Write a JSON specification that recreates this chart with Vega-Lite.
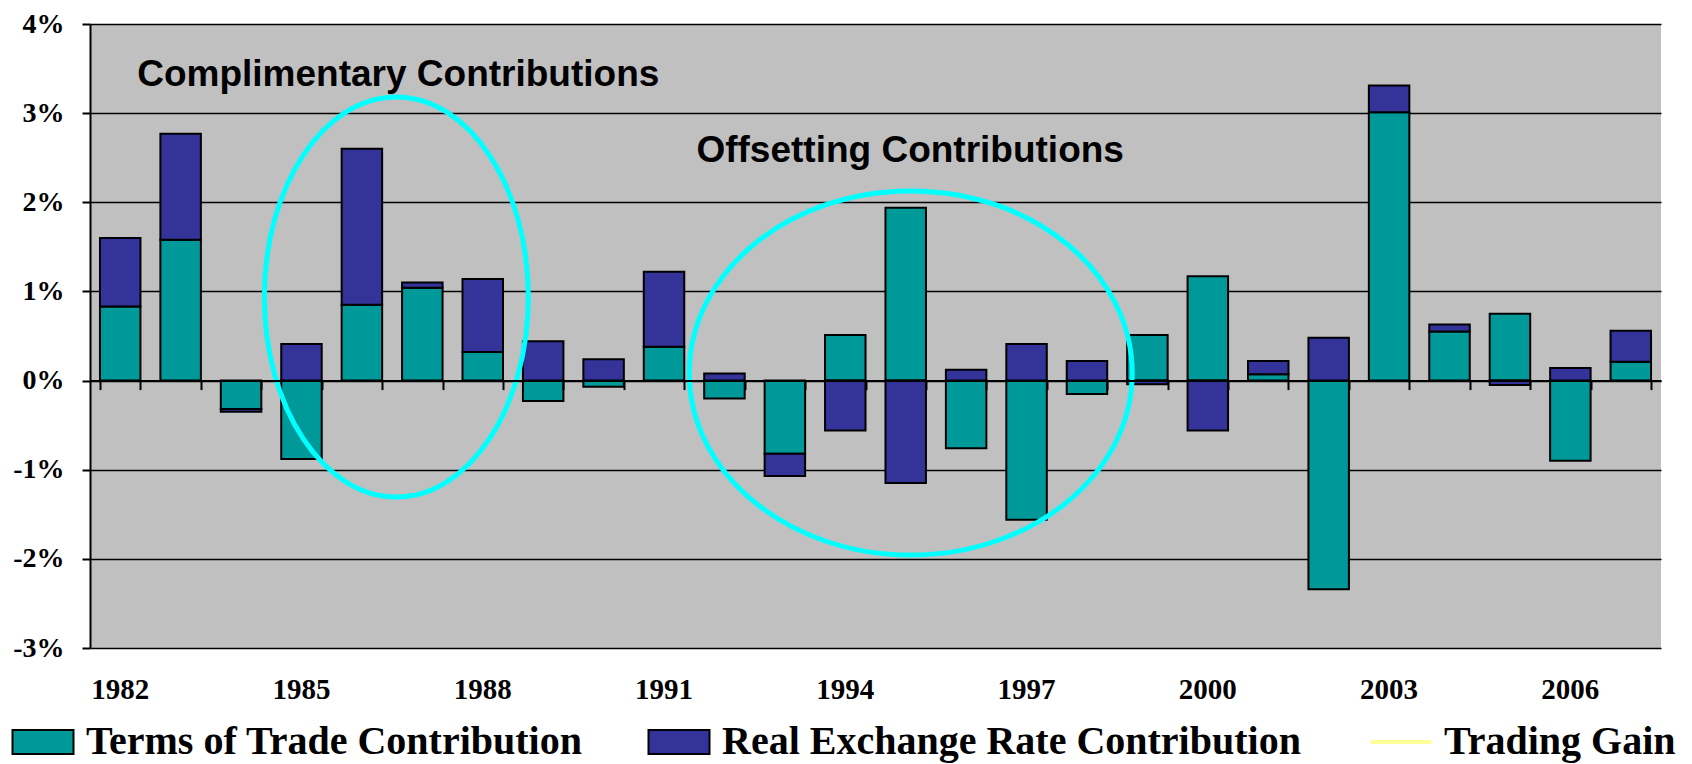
{
  "$schema": "https://vega.github.io/schema/vega-lite/v6.json",
  "width": 1571,
  "height": 624,
  "autosize": {"type": "none"},
  "padding": {"left": 90, "top": 24, "right": 31, "bottom": 116},
  "background": "white",
  "config": {
    "view": {"fill": "#C0C0C0", "stroke": null},
    "axisY": {"title": null, "labelExpr": "datum.value + '%'", "labelFont": "Liberation Serif", "labelFontWeight": "bold", "labelFontSize": 28, "labelColor": "black", "labelPadding": 18, "tickSize": 8, "tickColor": "black", "tickWidth": 2, "domainColor": "black", "domainWidth": 2, "grid": true, "gridColor": "black", "gridWidth": 1.5, "gridOpacity": 1}
  },
  "data": {
    "values": [
      {"year": 1982, "series": "Terms of Trade Contribution", "ord": 1, "value": 0.83},
      {"year": 1982, "series": "Real Exchange Rate Contribution", "ord": 2, "value": 0.77},
      {"year": 1983, "series": "Terms of Trade Contribution", "ord": 1, "value": 1.58},
      {"year": 1983, "series": "Real Exchange Rate Contribution", "ord": 2, "value": 1.19},
      {"year": 1984, "series": "Terms of Trade Contribution", "ord": 1, "value": -0.32},
      {"year": 1984, "series": "Real Exchange Rate Contribution", "ord": 2, "value": -0.03},
      {"year": 1985, "series": "Terms of Trade Contribution", "ord": 1, "value": -0.88},
      {"year": 1985, "series": "Real Exchange Rate Contribution", "ord": 2, "value": 0.41},
      {"year": 1986, "series": "Terms of Trade Contribution", "ord": 1, "value": 0.85},
      {"year": 1986, "series": "Real Exchange Rate Contribution", "ord": 2, "value": 1.75},
      {"year": 1987, "series": "Terms of Trade Contribution", "ord": 1, "value": 1.04},
      {"year": 1987, "series": "Real Exchange Rate Contribution", "ord": 2, "value": 0.06},
      {"year": 1988, "series": "Terms of Trade Contribution", "ord": 1, "value": 0.32},
      {"year": 1988, "series": "Real Exchange Rate Contribution", "ord": 2, "value": 0.82},
      {"year": 1989, "series": "Terms of Trade Contribution", "ord": 1, "value": -0.23},
      {"year": 1989, "series": "Real Exchange Rate Contribution", "ord": 2, "value": 0.44},
      {"year": 1990, "series": "Terms of Trade Contribution", "ord": 1, "value": -0.07},
      {"year": 1990, "series": "Real Exchange Rate Contribution", "ord": 2, "value": 0.24},
      {"year": 1991, "series": "Terms of Trade Contribution", "ord": 1, "value": 0.38},
      {"year": 1991, "series": "Real Exchange Rate Contribution", "ord": 2, "value": 0.84},
      {"year": 1992, "series": "Terms of Trade Contribution", "ord": 1, "value": -0.20},
      {"year": 1992, "series": "Real Exchange Rate Contribution", "ord": 2, "value": 0.08},
      {"year": 1993, "series": "Terms of Trade Contribution", "ord": 1, "value": -0.82},
      {"year": 1993, "series": "Real Exchange Rate Contribution", "ord": 2, "value": -0.25},
      {"year": 1994, "series": "Terms of Trade Contribution", "ord": 1, "value": 0.51},
      {"year": 1994, "series": "Real Exchange Rate Contribution", "ord": 2, "value": -0.56},
      {"year": 1995, "series": "Terms of Trade Contribution", "ord": 1, "value": 1.94},
      {"year": 1995, "series": "Real Exchange Rate Contribution", "ord": 2, "value": -1.15},
      {"year": 1996, "series": "Terms of Trade Contribution", "ord": 1, "value": -0.76},
      {"year": 1996, "series": "Real Exchange Rate Contribution", "ord": 2, "value": 0.12},
      {"year": 1997, "series": "Terms of Trade Contribution", "ord": 1, "value": -1.56},
      {"year": 1997, "series": "Real Exchange Rate Contribution", "ord": 2, "value": 0.41},
      {"year": 1998, "series": "Terms of Trade Contribution", "ord": 1, "value": -0.15},
      {"year": 1998, "series": "Real Exchange Rate Contribution", "ord": 2, "value": 0.22},
      {"year": 1999, "series": "Terms of Trade Contribution", "ord": 1, "value": 0.51},
      {"year": 1999, "series": "Real Exchange Rate Contribution", "ord": 2, "value": -0.04},
      {"year": 2000, "series": "Terms of Trade Contribution", "ord": 1, "value": 1.17},
      {"year": 2000, "series": "Real Exchange Rate Contribution", "ord": 2, "value": -0.56},
      {"year": 2001, "series": "Terms of Trade Contribution", "ord": 1, "value": 0.07},
      {"year": 2001, "series": "Real Exchange Rate Contribution", "ord": 2, "value": 0.15},
      {"year": 2002, "series": "Terms of Trade Contribution", "ord": 1, "value": -2.34},
      {"year": 2002, "series": "Real Exchange Rate Contribution", "ord": 2, "value": 0.48},
      {"year": 2003, "series": "Terms of Trade Contribution", "ord": 1, "value": 3.01},
      {"year": 2003, "series": "Real Exchange Rate Contribution", "ord": 2, "value": 0.30},
      {"year": 2004, "series": "Terms of Trade Contribution", "ord": 1, "value": 0.55},
      {"year": 2004, "series": "Real Exchange Rate Contribution", "ord": 2, "value": 0.08},
      {"year": 2005, "series": "Terms of Trade Contribution", "ord": 1, "value": 0.75},
      {"year": 2005, "series": "Real Exchange Rate Contribution", "ord": 2, "value": -0.05},
      {"year": 2006, "series": "Terms of Trade Contribution", "ord": 1, "value": -0.90},
      {"year": 2006, "series": "Real Exchange Rate Contribution", "ord": 2, "value": 0.14},
      {"year": 2007, "series": "Terms of Trade Contribution", "ord": 1, "value": 0.21},
      {"year": 2007, "series": "Real Exchange Rate Contribution", "ord": 2, "value": 0.35}
    ]
  },
  "resolve": {"axis": {"x": "independent"}},
  "layer": [
    {
      "mark": {"type": "bar", "stroke": "black", "strokeWidth": 2},
      "encoding": {
        "x": {
          "field": "year", "type": "ordinal",
          "scale": {"paddingInner": 0.33, "paddingOuter": 0.165},
          "axis": {"orient": "bottom", "offset": -267.43, "labels": false, "title": null, "domain": true, "domainColor": "black", "domainWidth": 2, "ticks": true, "tickBand": "extent", "tickSize": 9, "tickColor": "black", "tickWidth": 2, "grid": false, "zindex": 1}
        },
        "y": {
          "field": "value", "type": "quantitative", "stack": "zero",
          "scale": {"domain": [-3, 4], "nice": false, "zero": false},
          "axis": {"title": null, "values": [-3, -2, -1, 0, 1, 2, 3, 4]}
        },
        "color": {
          "field": "series", "type": "nominal",
          "scale": {"domain": ["Terms of Trade Contribution", "Real Exchange Rate Contribution", "Trading Gain"], "range": ["#009999", "#333399", "#FFFF99"]},
          "legend": {
            "orient": "none", "legendX": -67, "legendY": 698, "direction": "horizontal", "title": null,
            "labelFont": "Liberation Serif", "labelFontWeight": "bold", "labelFontSize": 40, "labelColor": "black", "labelLimit": 2000, "labelOffset": 23,
            "columnPadding": 61, "symbolSize": 3721, "symbolStrokeColor": "black", "symbolStrokeWidth": 2, "symbolType": "M-1,-0.393H1V0.393H-1Z", "symbolOpacity": 1, "padding": 0,
            "encode": {
              "symbols": {
                "update": {
                  "shape": {"signal": "datum.value === 'Trading Gain' ? 'M-1,0H1' : 'M-1,-0.393H1V0.393H-1Z'"},
                  "stroke": {"signal": "datum.value === 'Trading Gain' ? '#FFFF99' : 'black'"},
                  "strokeWidth": {"signal": "datum.value === 'Trading Gain' ? 4 : 2"}
                }
              }
            }
          }
        },
        "order": {"field": "ord", "type": "quantitative"}
      }
    },
    {
      "data": {"values": [{"year": 1987, "value": 0.9375}]},
      "mark": {"type": "point", "shape": "M0.66,0C0.66,0.5523 0.3645,1 0,1C-0.3645,1 -0.66,0.5523 -0.66,0C-0.66,-0.5523 -0.3645,-1 0,-1C0.3645,-1 0.66,-0.5523 0.66,0Z", "size": 160000, "filled": false, "stroke": "#00FFFF", "strokeWidth": 5, "opacity": 1, "strokeOpacity": 1, "xOffset": -26},
      "encoding": {
        "x": {"field": "year", "type": "ordinal", "axis": null},
        "y": {"field": "value", "type": "quantitative", "axis": {"title": null, "values": [-3, -2, -1, 0, 1, 2, 3, 4]}}
      }
    },
    {
      "data": {"values": [{"year": 1995, "value": 0.085}]},
      "mark": {"type": "point", "shape": "M1,0C1,0.454 0.5523,0.822 0,0.822C-0.5523,0.822 -1,0.454 -1,0C-1,-0.454 -0.5523,-0.822 0,-0.822C0.5523,-0.822 1,-0.454 1,0Z", "size": 196249, "filled": false, "stroke": "#00FFFF", "strokeWidth": 5, "opacity": 1, "strokeOpacity": 1, "xOffset": 5},
      "encoding": {
        "x": {"field": "year", "type": "ordinal", "axis": null},
        "y": {"field": "value", "type": "quantitative", "axis": {"title": null, "values": [-3, -2, -1, 0, 1, 2, 3, 4]}}
      }
    },
    {
      "data": {"values": [{"year": 1982, "value": 3.304, "label": "Complimentary Contributions"}]},
      "mark": {"type": "text", "align": "left", "baseline": "alphabetic", "dx": 17, "font": "Liberation Sans", "fontWeight": "bold", "fontSize": 37, "color": "black"},
      "encoding": {
        "x": {"field": "year", "type": "ordinal", "axis": {"orient": "bottom", "title": null, "domain": false, "ticks": false, "grid": false, "labelAngle": 0, "labelOverlap": false, "labelFont": "Liberation Serif", "labelFontWeight": "bold", "labelFontSize": 29, "labelColor": "black", "labelPadding": 27, "labelExpr": "(datum.value - 1982) % 3 == 0 ? datum.label : ''"}},
        "y": {"field": "value", "type": "quantitative", "axis": {"title": null, "values": [-3, -2, -1, 0, 1, 2, 3, 4]}},
        "text": {"field": "label"}
      }
    },
    {
      "data": {"values": [{"year": 1992, "value": 2.455, "label": "Offsetting Contributions"}]},
      "mark": {"type": "text", "align": "left", "baseline": "alphabetic", "dx": -28, "font": "Liberation Sans", "fontWeight": "bold", "fontSize": 37, "color": "black"},
      "encoding": {
        "x": {"field": "year", "type": "ordinal", "axis": null},
        "y": {"field": "value", "type": "quantitative", "axis": {"title": null, "values": [-3, -2, -1, 0, 1, 2, 3, 4]}},
        "text": {"field": "label"}
      }
    }
  ]
}
